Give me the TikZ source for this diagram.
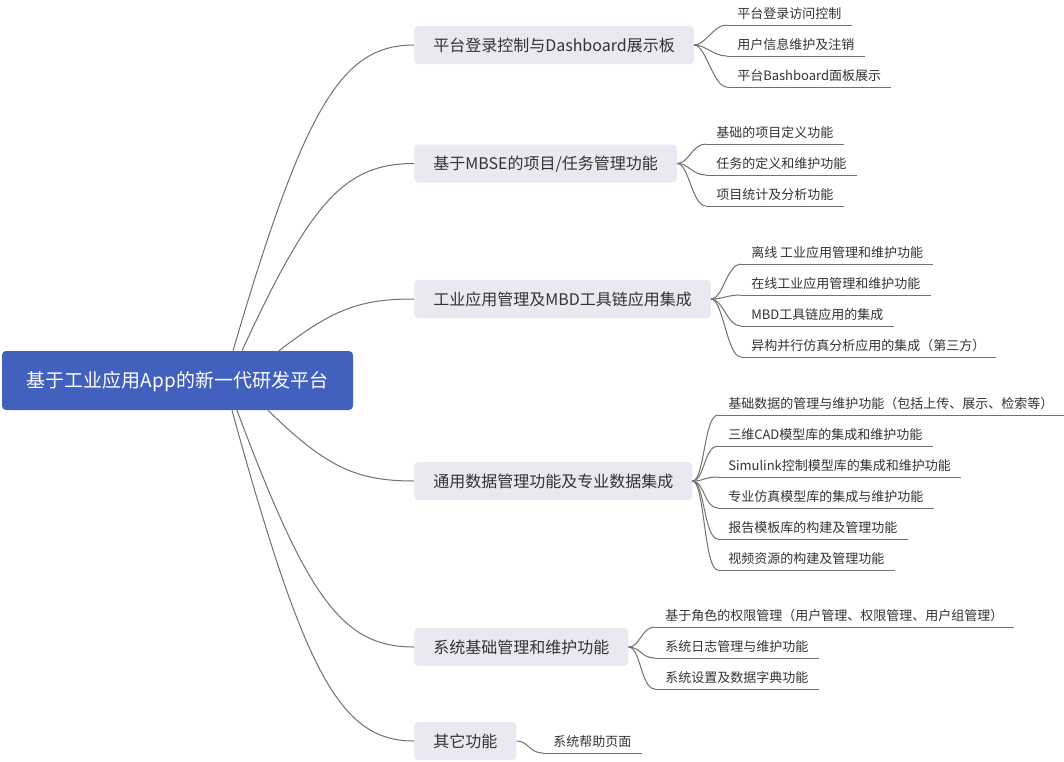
\documentclass[tikz,border=0pt]{standalone}
\usepackage{fontspec}
\setmainfont{Noto Sans CJK SC}
\usetikzlibrary{calc}
\definecolor{rootblue}{RGB}{66,96,189}
\definecolor{branchbg}{RGB}{233,233,242}
\definecolor{linegray}{RGB}{112,112,112}
\definecolor{txt}{RGB}{51,51,51}
\begin{document}
\begin{tikzpicture}[x=0.75pt,y=-0.75pt,
  rootbox/.style={fill=rootblue, rounded corners=3pt, text=white, font=\fontsize{14.25pt}{16pt}\selectfont, minimum width=263.25pt, minimum height=44.25pt, inner sep=0pt, text height=10.8pt, text depth=0pt},
  branchbox/.style={fill=branchbg, rounded corners=3pt, text=txt, font=\fontsize{12pt}{14pt}\selectfont, anchor=west, inner xsep=14.25pt, inner ysep=0pt, minimum height=28.5pt, text height=9pt, text depth=0pt},
  leaf/.style={anchor=south west, text=txt, font=\fontsize{9.75pt}{11pt}\selectfont, inner xsep=7.5pt, inner ysep=4.5pt, text height=7.5pt, text depth=0pt},
  conn/.style={draw=linegray, line width=0.75pt},
]
\useasboundingbox (0,0) rectangle (1064,761);

\node[rootbox] (root) at (177.5,380.5) {基于工业应用App的新一代研发平台};

\node[branchbox] (b1) at (414,45) {平台登录控制与Dashboard展示板};
\node[branchbox] (b2) at (414,163.5) {基于MBSE的项目/任务管理功能};
\node[branchbox] (b3) at (414,299) {工业应用管理及MBD工具链应用集成};
\node[branchbox] (b4) at (414,481) {通用数据管理功能及专业数据集成};
\node[branchbox] (b5) at (414,647) {系统基础管理和维护功能};
\node[branchbox] (b6) at (414,741) {其它功能};

% leaves
\node[leaf] (l11) at (727,25) {平台登录访问控制};
\node[leaf] (l12) at (727,56) {用户信息维护及注销};
\node[leaf] (l13) at (727,87) {平台Bashboard面板展示};

\node[leaf] (l21) at (706,144) {基础的项目定义功能};
\node[leaf] (l22) at (706,175) {任务的定义和维护功能};
\node[leaf] (l23) at (706,206) {项目统计及分析功能};

\node[leaf] (l31) at (741,264) {离线 工业应用管理和维护功能};
\node[leaf] (l32) at (741,295) {在线工业应用管理和维护功能};
\node[leaf] (l33) at (741,326) {MBD工具链应用的集成};
\node[leaf] (l34) at (741,357) {异构并行仿真分析应用的集成（第三方）};

\node[leaf] (l41) at (718,415) {基础数据的管理与维护功能（包括上传、展示、检索等）};
\node[leaf] (l42) at (718,446) {三维CAD模型库的集成和维护功能};
\node[leaf] (l43) at (718,477) {Simulink控制模型库的集成和维护功能};
\node[leaf] (l44) at (718,508) {专业仿真模型库的集成与维护功能};
\node[leaf] (l45) at (718,539) {报告模板库的构建及管理功能};
\node[leaf] (l46) at (718,570) {视频资源的构建及管理功能};

\node[leaf] (l51) at (655,627) {基于角色的权限管理（用户管理、权限管理、用户组管理）};
\node[leaf] (l52) at (655,658) {系统日志管理与维护功能};
\node[leaf] (l53) at (655,689) {系统设置及数据字典功能};

\node[leaf] (l61) at (543,753) {系统帮助页面};

% underlines
\foreach \n in {l11,l12,l13,l21,l22,l23,l31,l32,l33,l34,l41,l42,l43,l44,l45,l46,l51,l52,l53,l61}
  \draw[conn] (\n.south west) -- (\n.south east);

% branch-to-leaf connectors
\foreach \b/\n in {b1/l11,b1/l12,b1/l13,b2/l21,b2/l22,b2/l23,b3/l31,b3/l32,b3/l33,b3/l34,b4/l41,b4/l42,b4/l43,b4/l44,b4/l45,b4/l46,b5/l51,b5/l52,b5/l53,b6/l61}
  \draw[conn] (\b.east) .. controls +(12,0) and +(-14,0) .. (\n.south west);

% root-to-branch connectors
\draw[conn] ($(root.north)+(55.5,0)$) .. controls (305,105) and (342,45) .. (b1.west);
\draw[conn] ($(root.north)+(64.5,0)$) .. controls (311,201) and (345,163.5) .. (b2.west);
\draw[conn] ($(root.north)+(101.5,0)$) .. controls (333,309) and (360,299) .. (b3.west);
\draw[conn] ($(root.south)+(90.5,0)$) .. controls (326,467) and (356,481) .. (b4.west);
\draw[conn] ($(root.south)+(59.5,0)$) .. controls (308,600) and (343,647) .. (b5.west);
\draw[conn] ($(root.south)+(54.5,0)$) .. controls (305,676) and (341,741) .. (b6.west);
\end{tikzpicture}
\end{document}
